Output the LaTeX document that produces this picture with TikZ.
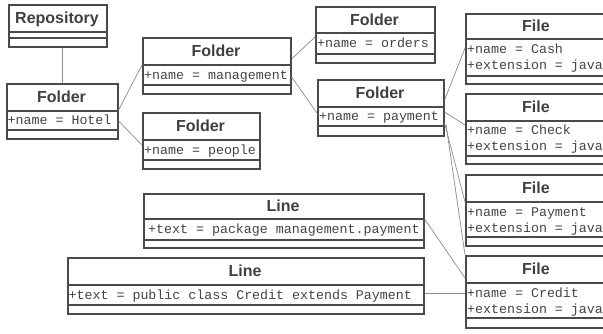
\documentclass[tikz,border=0pt]{standalone}
\usepackage{fontspec}
\setmainfont{Liberation Sans}
\newfontfamily\monof{Liberation Mono}
\definecolor{bord}{HTML}{4A4A4A}
\definecolor{titlec}{HTML}{404040}
\definecolor{attrc}{HTML}{444444}
\definecolor{connc}{HTML}{8C8C8C}
\tikzset{
  umlbox/.style={draw=bord, line width=1.6pt, rectangle, inner sep=0pt, anchor=north west, fill=white},
  sepline/.style={draw=bord, line width=1.6pt},
  umltitle/.style={font=\fontsize{16}{16}\selectfont\bfseries, text=titlec, inner sep=0pt, text height=11.5pt, text depth=0pt},
  umlattr/.style={font=\fontsize{13.3}{16}\selectfont\monof, text=attrc, inner sep=0pt, anchor=west, text height=8.8pt, text depth=0pt},
  conn/.style={draw=connc, line width=0.7pt},
}
\newcommand\uclass[8]{%
  \node[umlbox, minimum width={#4pt-#2pt}, minimum height={#7pt-#3pt}] (#1) at (#2,#3) {};
  \draw[sepline] (#1.west |- 0,#5) -- (#1.east |- 0,#5);
  \draw[sepline] (#1.west |- 0,#6) -- (#1.east |- 0,#6);
  \node[umltitle] (#1-t) at ({(#2+#4)/2},{(#3+#5)/2}) {#8};
}
\begin{document}
\begin{tikzpicture}[x=1pt,y=-1pt]
\fill[white] (0,0) rectangle (603,333);
\useasboundingbox (0,0) rectangle (603,333);
\clip (0,0) rectangle (603,333);

% boxes
\uclass{repo}{8}{4}{106}{32}{38}{46}{Repository}
\uclass{hotel}{6}{83}{117}{111}{130}{138}{Folder}
\node[umlattr] (hotel-a) at (7.5,120.5) {+name = Hotel};
\uclass{mgmt}{142}{37}{290}{65}{85}{93}{Folder}
\node[umlattr] (mgmt-a) at (144,75) {+name = management};
\uclass{people}{142}{112}{259}{140}{160}{168}{Folder}
\node[umlattr] (people-a) at (144,150) {+name = people};
\uclass{orders}{315}{6}{434}{33}{54}{62}{Folder}
\node[umlattr] (orders-a) at (317,43.5) {+name = orders};
\uclass{pay}{317}{79}{443}{107}{126}{135}{Folder}
\node[umlattr] (pay-a) at (319,116.5) {+name = payment};

\uclass{cash}{465}{13}{607}{39}{76}{83}{File}
\node[umlattr] (cash-a) at (467,49) {+name = Cash};
\node[umlattr] (cash-b) at (467,65) {+extension = java};
\uclass{check}{465}{93}{607}{121}{156}{163}{File}
\node[umlattr] (check-a) at (467,130) {+name = Check};
\node[umlattr] (check-b) at (467,146) {+extension = java};
\uclass{payf}{465}{174}{607}{202}{237}{245}{File}
\node[umlattr] (payf-a) at (467,212) {+name = Payment};
\node[umlattr] (payf-b) at (467,228) {+extension = java};
\uclass{credit}{465}{255}{607}{283}{318}{327}{File}
\node[umlattr] (credit-a) at (467,293) {+name = Credit};
\node[umlattr] (credit-b) at (467,309) {+extension = java};

\uclass{lineA}{143}{193}{423}{219}{240}{247}{Line}
\begin{scope}
  \clip (143,219) rectangle (421,240);
  \node[umlattr] (lineA-a) at (148,229.5) {+text = package management.payment;};
\end{scope}
\uclass{lineB}{67}{257}{423}{285}{305}{313}{Line}
\node[umlattr] (lineB-a) at (68.5,295) {+text = public class Credit extends Payment};

% connectors
\draw[conn] (hotel.north) -- (hotel.north |- repo.south);
\draw[conn] ([yshift=-27pt]hotel.north east) -- ([yshift=-28pt]mgmt.north west);
\draw[conn] ([yshift=-38pt]hotel.north east) -- ([yshift=-33pt]people.north west);
\draw[conn] ([yshift=-22pt]mgmt.north east) -- ([yshift=-31pt]orders.north west);
\draw[conn] ([yshift=-40pt]mgmt.north east) -- ([yshift=-34pt]pay.north west);
\draw[conn] ([yshift=-21pt]pay.north east) -- ([yshift=-35pt]cash.north west);
\draw[conn] ([yshift=-33pt]pay.north east) -- ([yshift=-32pt]check.north west);
\draw[conn] ([yshift=-44pt]pay.north east) -- ([yshift=-28pt]payf.north west);
\draw[conn] ([xshift=1.5pt,yshift=-46pt]pay.north east) -- (credit.north west);
\draw[conn] ([yshift=-26pt]lineA.north east) -- ([yshift=-23pt]credit.north west);
\draw[conn] ([yshift=-36pt]lineB.north east) -- ([yshift=-38pt]credit.north west);
\end{tikzpicture}
\end{document}
